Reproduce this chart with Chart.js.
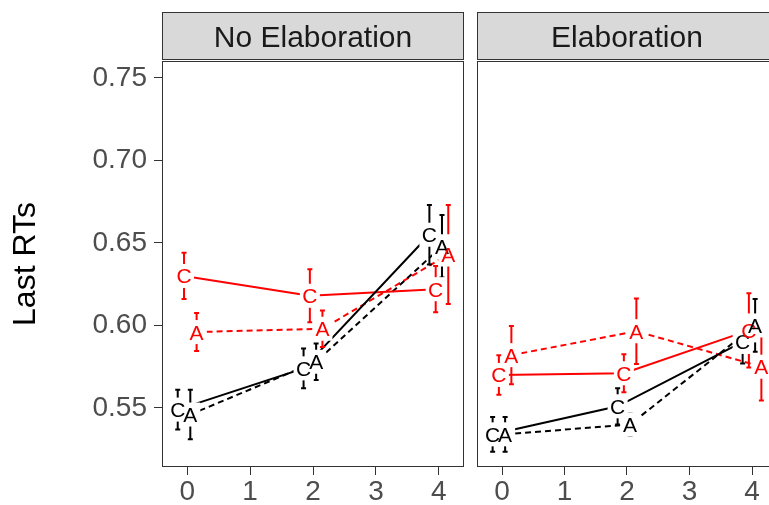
<!DOCTYPE html>
<html>
<head>
<meta charset="utf-8">
<script src="https://cdn.jsdelivr.net/npm/chart.js@4.4.1/dist/chart.umd.min.js"></script>
<style>
  html, body { margin: 0; padding: 0; background: #fff; overflow: hidden; }
  #wrap { position: relative; width: 769px; height: 505px; overflow: hidden; background: #fff; }
  canvas { position: absolute; top: 0; }
  #left  { left: 0; }
  #right { left: 470px; }
</style>
</head>
<body>
<div id="wrap">
  <canvas id="left" width="470" height="505"></canvas>
  <canvas id="right" width="320" height="505"></canvas>
</div>
<script>
// ── Données ──────────────────────────────────────────────────────────────────
const xVals  = [0, 2, 4];
const xTicks = [0, 1, 2, 3, 4];
const yTicks = [0.55, 0.60, 0.65, 0.70, 0.75];
const panelNames = ['No Elaboration', 'Elaboration'];
const yTitle = 'Last RTs';

// No Elaboration
const noElabBlackC    = [0.549, 0.574, 0.655];
const noElabBlackCErr = [0.012, 0.012, 0.018];
const noElabRedC      = [0.630, 0.618, 0.622];
const noElabRedCErr   = [0.014, 0.016, 0.014];
const noElabBlackA    = [0.546, 0.578, 0.648];
const noElabBlackAErr = [0.015, 0.011, 0.019];
const noElabRedA      = [0.596, 0.598, 0.643];
const noElabRedAErr   = [0.0115, 0.011, 0.030];

// Elaboration
const elabBlackC    = [0.534, 0.551, 0.590];
const elabBlackCErr = [0.0105, 0.011, 0.013];
const elabRedC      = [0.570, 0.571, 0.597];
const elabRedCErr   = [0.012, 0.0115, 0.0225];
const elabBlackA    = [0.534, 0.540, 0.600];
const elabBlackAErr = [0.0105, 0.0067, 0.016];
const elabRedA      = [0.582, 0.5965, 0.575];
const elabRedAErr   = [0.0177, 0.0198, 0.0205];

// ── Style ggplot ─────────────────────────────────────────────────────────────
const FONT = "'Liberation Sans', Arial, sans-serif";
const RED = '#ff0000', BLACK = '#000000';
const DODGE = [-0.15, -0.05, 0.05, 0.15];

function _series(letter, color, vals, errs, k) {
  return {
    label: letter,
    letter, err: errs,
    data: xVals.map((x, i) => ({ x: x + DODGE[k], y: vals[i] })),
    borderColor: color,
    borderWidth: 2,
    borderDash: letter === 'A' ? [6, 4] : [],
    pointRadius: 0,
    fill: false,
    tension: 0,
  };
}

// barres d'erreur + étiquettes C/A sur fond blanc + bandeau du panneau
const decor = {
  id: 'decor',
  afterDatasetsDraw(chart) {
    const ctx = chart.ctx, y = chart.scales.y;
    const metas = chart.data.datasets.map((ds, di) => chart.getDatasetMeta(di));
    ctx.save();
    // barres d'erreur
    chart.data.datasets.forEach((ds, di) => {
      ctx.strokeStyle = ds.borderColor;
      ctx.lineWidth = 2;
      metas[di].data.forEach((pt, i) => {
        const v = ds.data[i].y, e = ds.err[i];
        const yt = y.getPixelForValue(v + e), yb = y.getPixelForValue(v - e);
        ctx.beginPath();
        ctx.moveTo(pt.x, yt); ctx.lineTo(pt.x, yb);
        ctx.moveTo(pt.x - 2.5, yt); ctx.lineTo(pt.x + 2.5, yt);
        ctx.moveTo(pt.x - 2.5, yb); ctx.lineTo(pt.x + 2.5, yb);
        ctx.stroke();
      });
    });
    // fonds blancs d'abord, puis les lettres
    ctx.fillStyle = '#fff';
    metas.forEach(m => m.data.forEach(pt => ctx.fillRect(pt.x - 10, pt.y - 12, 20, 24)));
    ctx.font = `21px ${FONT}`;
    ctx.textAlign = 'center';
    ctx.textBaseline = 'alphabetic';
    chart.data.datasets.forEach((ds, di) => {
      ctx.fillStyle = ds.borderColor;
      metas[di].data.forEach(pt => ctx.fillText(ds.letter, pt.x, pt.y + 7.5));
    });
    ctx.restore();
  },
  afterDraw(chart) {
    const ctx = chart.ctx, a = chart.chartArea;
    ctx.save();
    ctx.strokeStyle = '#333';
    ctx.lineWidth = 1;
    ctx.strokeRect(a.left + 0.5, a.top + 0.5, a.right - a.left - 1, a.bottom - a.top - 1);
    // bandeau
    ctx.fillStyle = '#d9d9d9';
    ctx.fillRect(a.left, 12, a.right - a.left, 47);
    ctx.strokeRect(a.left + 0.5, 12.5, a.right - a.left - 1, 47);
    ctx.fillStyle = '#1a1a1a';
    ctx.font = `30px ${FONT}`;
    ctx.textAlign = 'center';
    ctx.textBaseline = 'alphabetic';
    ctx.fillText(chart.options.plugins.decor.strip, (a.left + a.right) / 2, 47);
    ctx.restore();
  },
};

function makePanel(canvasId, strip, datasets, showY, padding) {
  return new Chart(document.getElementById(canvasId), {
    type: 'line',
    data: { datasets },
    plugins: [decor],
    options: {
      responsive: false,
      animation: false,
      devicePixelRatio: 1,
      layout: { padding },
      plugins: { legend: { display: false }, tooltip: { enabled: false }, decor: { strip } },
      scales: {
        x: {
          type: 'linear', min: -0.4, max: 4.4,
          afterBuildTicks: s => { s.ticks = xTicks.map(v => ({ value: v })); },
          afterFit: s => { s.height = 38; },
          ticks: { autoSkip: false, maxRotation: 0, padding: 0, color: '#4d4d4d',
                   font: { size: 28, family: FONT }, callback: v => String(v) },
          grid: { drawOnChartArea: false, tickLength: 8, color: '#333' },
          border: { display: false },
        },
        y: {
          display: showY,
          min: 0.5142, max: 0.7603,
          afterBuildTicks: s => { s.ticks = yTicks.map(v => ({ value: v })); },
          afterFit: s => { s.width = showY ? 162 : 0; },
          ticks: { padding: 7, color: '#4d4d4d', font: { size: 28, family: FONT },
                   callback: v => Number(v).toFixed(2) },
          grid: { drawOnChartArea: false, tickLength: 8, color: '#333' },
          border: { display: false },
          title: { display: true, text: yTitle, color: '#000',
                   font: { size: 32, family: FONT }, padding: { top: 7, bottom: 0 } },
        },
      },
    },
  });
}

makePanel('left', panelNames[0], [
  _series('C', BLACK, noElabBlackC, noElabBlackCErr, 0),
  _series('C', RED,   noElabRedC,   noElabRedCErr,   1),
  _series('A', BLACK, noElabBlackA, noElabBlackAErr, 2),
  _series('A', RED,   noElabRedA,   noElabRedAErr,   3),
], true, { top: 61, right: 6, left: 0, bottom: 0 });

makePanel('right', panelNames[1], [
  _series('C', BLACK, elabBlackC, elabBlackCErr, 0),
  _series('C', RED,   elabRedC,   elabRedCErr,   1),
  _series('A', BLACK, elabBlackA, elabBlackAErr, 2),
  _series('A', RED,   elabRedA,   elabRedAErr,   3),
], false, { top: 61, right: 13, left: 7, bottom: 0 });
</script>
</body>
</html>
